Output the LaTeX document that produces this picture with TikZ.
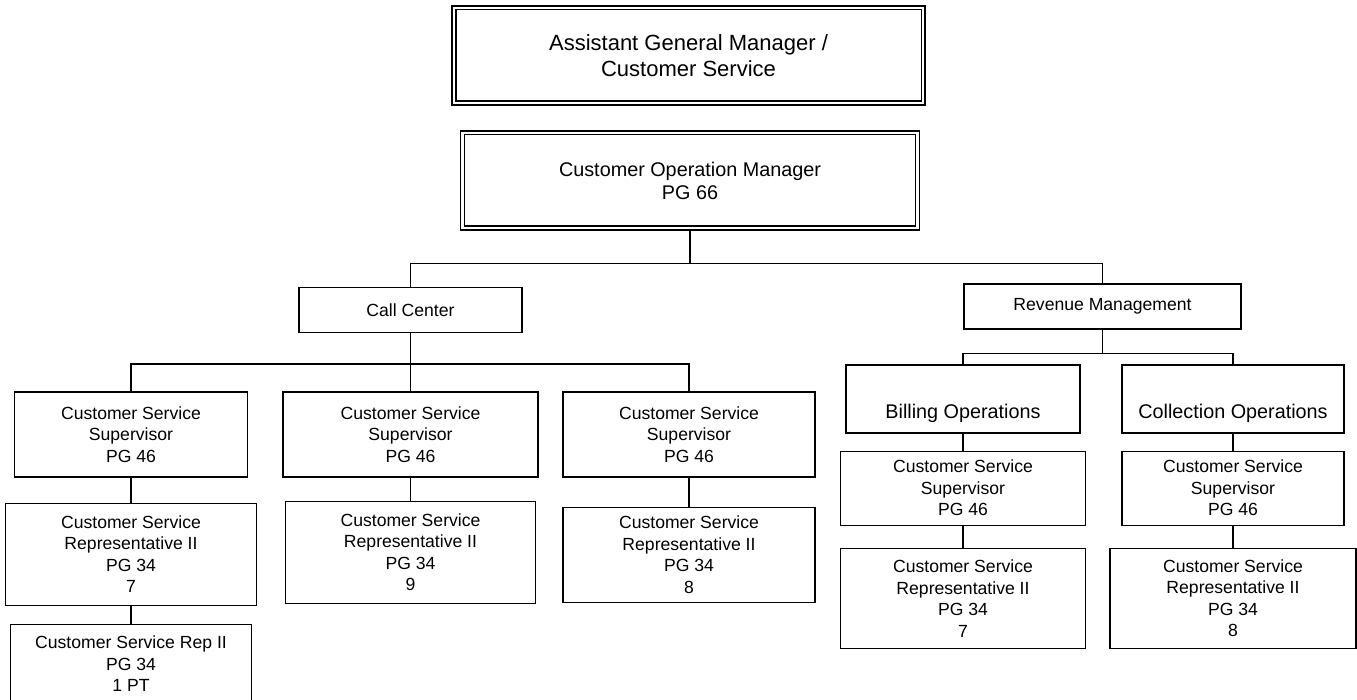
\documentclass[tikz,border=0pt]{standalone}
\usepackage{fontspec}
\setmainfont{Liberation Sans}
\usetikzlibrary{positioning}

\begin{document}
\begin{tikzpicture}[x=1pt, y=-1pt,
    post/.style={draw,
      line width=1.2pt,
      inner sep=0pt,
      align=center,
      font=\fontsize{17.6}{21.5}\selectfont},
    head/.style={post,
      minimum height=99pt},
    link/.style={line width=1.2pt}]
  \useasboundingbox (0,0) rectangle (1357,700);

  % MANAGEMENT

  \node[head, minimum width=473pt,
    font=\fontsize{22}{26}\selectfont] (agm) at (688.5,55.5)
    {Assistant General Manager /\\Customer Service};

  \node[head, minimum width=459pt,
    font=\fontsize{19.8}{23}\selectfont] (com) at (690,180.5)
    {Customer Operation Manager\\PG 66};

  % inner frames of the double borders
  \foreach \n in {agm,com}
    \draw[link] ([shift={(4.5,4.5)}]\n.north west)
      rectangle ([shift={(-4.5,-4.5)}]\n.south east);

  % DIVISIONS

  \node[post, minimum width=223pt, minimum height=45pt] (callc) at (410.5,310)
    {Call Center};
  \node[post, minimum width=277pt, minimum height=45pt] (revm) at (1102.5,306.5)
    {Revenue Management};

  % CALL CENTER

  \node[post, minimum width=233pt, minimum height=85pt] (sup1) at (131,434.5)
    {Customer Service\\Supervisor\\PG 46};
  \node[post, minimum width=255pt, minimum height=85pt] (sup2) at (410.5,434.5)
    {Customer Service\\Supervisor\\PG 46};
  \node[post, minimum width=252pt, minimum height=85pt] (sup3) at (689,434.5)
    {Customer Service\\Supervisor\\PG 46};

  \node[post, minimum width=251pt, minimum height=102pt, below=25pt of sup1] (rep1)
    {Customer Service\\Representative II\\PG 34\\7};
  \node[post, minimum width=241pt, minimum height=79pt, below=18pt of rep1] (rept)
    {Customer Service Rep II\\PG 34\\1 PT};
  \node[post, minimum width=250pt, minimum height=102pt, below=23pt of sup2] (rep2)
    {Customer Service\\Representative II\\PG 34\\9};
  \node[post, minimum width=252pt, minimum height=95pt, below=29pt of sup3] (rep3)
    {Customer Service\\Representative II\\PG 34\\8};

  % REVENUE MANAGEMENT

  \node[post, minimum width=234pt, text height=53pt, text depth=15pt,
    font=\fontsize{19.8}{23}\selectfont] (billing) at (963,399)
    {Billing Operations};
  \node[post, minimum width=222pt, text height=53pt, text depth=15pt,
    font=\fontsize{19.8}{23}\selectfont] (collect) at (1233,399)
    {Collection Operations};

  \node[post, minimum width=245pt, minimum height=74pt, below=17pt of billing] (supb)
    {Customer Service\\Supervisor\\PG 46};
  \node[post, minimum width=245pt, minimum height=100pt, below=22pt of supb] (repb)
    {Customer Service\\Representative II\\PG 34\\7};
  \node[post, minimum width=222pt, minimum height=74pt, below=17pt of collect] (supc)
    {Customer Service\\Supervisor\\PG 46};
  \node[post, minimum width=246pt, minimum height=100pt, below=22pt of supc] (repc)
    {Customer Service\\Representative II\\PG 34\\8};

  % LINKS

  \draw[link] (com.south) -- ++(0,33) -| (callc.north);
  \draw[link] (com.south) -- ++(0,33) -| (revm.north);

  \foreach \s in {sup1,sup2,sup3}
    \draw[link] (callc.south) -- ++(0,31) -| (\s.north);
  \draw[link] (sup1) -- (rep1);
  \draw[link] (rep1) -- (rept);
  \draw[link] (sup2) -- (rep2);
  \draw[link] (sup3) -- (rep3);

  \draw[link] (revm.south) -- ++(0,24) -| (billing.north);
  \draw[link] (revm.south) -- ++(0,24) -| (collect.north);
  \draw[link] (billing) -- (supb);
  \draw[link] (supb) -- (repb);
  \draw[link] (collect) -- (supc);
  \draw[link] (supc) -- (repc);

\end{tikzpicture}
\end{document}
